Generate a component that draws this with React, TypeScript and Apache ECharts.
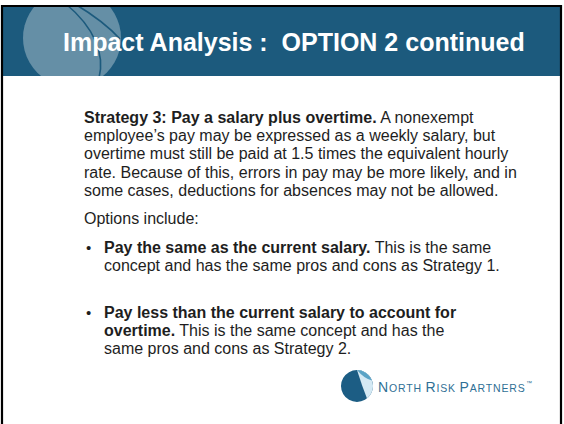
import React, { useEffect, useRef } from "react";
import * as echarts from "echarts";

const FONT = '"Liberation Sans", Arial, Helvetica, sans-serif';
const TITLE = "Impact Analysis :  OPTION 2 continued";

// [bold part, normal part]
const PARAGRAPH: [string, string][] = [
  ["Strategy 3: Pay a salary plus overtime.", " A nonexempt"],
  ["", "employee\u2019s pay may be expressed as a weekly salary, but"],
  ["", "overtime must still be paid at 1.5 times the equivalent hourly"],
  ["", "rate. Because of this, errors in pay may be more likely, and in"],
  ["", "some cases, deductions for absences may not be allowed."],
];
const OPTIONS_LINE = "Options include:";
const BULLET1: [string, string][] = [
  ["Pay the same as the current salary.", " This is the same"],
  ["", "concept and has the same pros and cons as Strategy 1."],
];
const BULLET2: [string, string][] = [
  ["Pay less than the current salary to account for", ""],
  ["overtime.", " This is the same concept and has the"],
  ["", "same pros and cons as Strategy 2."],
];
const LOGO_WORDS = ["NORTH", "RISK", "PARTNERS"];

const BAND = "#1c5a7d";
const TEXT = "#1e1e1e";
const LOGO_BLUE = "#2f6f95";

echarts.graphic.registerShape(
  "logoLight",
  echarts.graphic.extendPath("M 0 -16 A 16 16 0 0 1 10 12.5 Q 5 0 0 -16 Z", {})
);
echarts.graphic.registerShape(
  "logoTeal",
  echarts.graphic.extendPath("M 0 -16 A 16 16 0 0 1 15 -5.5 Q 7 -7.5 0 -16 Z", {})
);

function richLine(parts: [string, string], x: number, y: number) {
  const [b, n] = parts;
  let t = "";
  if (b) t += "{b|" + b + "}";
  if (n) t += "{n|" + n + "}";
  return {
    type: "text",
    x,
    y,
    style: {
      text: t,
      fill: TEXT,
      verticalAlign: "middle",
      rich: {
        b: { fontFamily: FONT, fontSize: 16, fontWeight: "bold", fill: TEXT },
        n: { fontFamily: FONT, fontSize: 16, fontWeight: "normal", fill: TEXT },
      },
    },
  };
}

export default function App() {
  const ref = useRef<HTMLDivElement>(null);
  useEffect(() => {
    if (!ref.current) return;
    const chart = echarts.init(ref.current, undefined, { renderer: "svg" });
    const els: any[] = [];
    // band
    els.push({ type: "rect", shape: { x: 2, y: 6, width: 560, height: 70 }, style: { fill: BAND } });
    els.push({ type: "circle", shape: { cx: 72, cy: 38, r: 49 }, style: { fill: "rgba(255,255,255,0.32)" } });
    els.push({
      type: "bezierCurve",
      shape: { x1: 66, y1: 4, cpx1: 95, cpy1: 28, cpx2: 105, cpy2: 55, x2: 99, y2: 78 },
      style: { stroke: BAND, lineWidth: 1.6, fill: "none" },
    });
    els.push({
      type: "bezierCurve",
      shape: { x1: 75, y1: 4, cpx1: 95, cpy1: 16, cpx2: 110, cpy2: 28, x2: 120, y2: 39 },
      style: { stroke: BAND, lineWidth: 1.6, fill: "none" },
    });
    // covers
    els.push({ type: "rect", shape: { x: 0, y: 0, width: 564, height: 6 }, style: { fill: "#ffffff" } });
    els.push({ type: "rect", shape: { x: 2, y: 76, width: 560, height: 350 }, style: { fill: "#ffffff" } });
    // border
    els.push({
      type: "polyline",
      shape: { points: [[2, 430], [2, 6], [561, 6], [561, 430]] },
      style: { stroke: "#000000", lineWidth: 2.2, fill: "none" },
    });
    // title
    els.push({
      type: "text",
      x: 63,
      y: 42,
      style: { text: TITLE, fill: "#ffffff", font: "bold 25px " + FONT, verticalAlign: "middle" },
    });
    const paraY = [117, 135, 153, 172, 190];
    PARAGRAPH.forEach((p, i) => els.push(richLine(p, 84, paraY[i])));
    els.push({
      type: "text",
      x: 84,
      y: 218,
      style: { text: OPTIONS_LINE, fill: TEXT, font: "16px " + FONT, verticalAlign: "middle" },
    });
    const b1Y = [247, 265];
    BULLET1.forEach((p, i) => els.push(richLine(p, 104, b1Y[i])));
    const b2Y = [312, 330, 348];
    BULLET2.forEach((p, i) => els.push(richLine(p, 104, b2Y[i])));
    [247, 312].forEach((y) =>
      els.push({
        type: "text",
        x: 86,
        y,
        style: { text: "\u2022", fill: TEXT, font: "15px " + FONT, verticalAlign: "middle" },
      })
    );
    // logo
    els.push({ type: "circle", shape: { cx: 357, cy: 386, r: 16 }, style: { fill: "#1c5d84" } });
    els.push({ type: "logoLight", x: 357, y: 386, scaleX: 1, scaleY: 1, style: { fill: "#d4e9f4" } });
    els.push({ type: "logoTeal", x: 357, y: 386, scaleX: 1, scaleY: 1, style: { fill: "#5aa3c6" } });
    // letter-spaced small caps, baseline aligned
    const ctx = document.createElement("canvas").getContext("2d")!;
    const spacing = 0.8;
    let cx = 378;
    const baseY = 392;
    LOGO_WORDS.forEach((w, wi) => {
      for (let k = 0; k < w.length; k++) {
        const size = k === 0 ? 14 : 10.5;
        const font = size + "px " + FONT;
        ctx.font = font;
        els.push({
          type: "text",
          x: cx,
          y: baseY - 0.3465 * size,
          style: { text: w[k], fill: LOGO_BLUE, font, verticalAlign: "middle" },
        });
        cx += ctx.measureText(w[k]).width + spacing;
      }
      if (wi < LOGO_WORDS.length - 1) {
        ctx.font = "10.5px " + FONT;
        cx += ctx.measureText(" ").width + spacing;
      }
    });
    els.push({
      type: "text",
      x: cx + 0.5,
      y: 383,
      style: { text: "\u2122", fill: LOGO_BLUE, font: "6px " + FONT, verticalAlign: "middle" },
    });
    chart.setOption({ animation: false, backgroundColor: "#ffffff", graphic: { elements: els } });
    return () => chart.dispose();
  }, []);
  return (
    <div
      ref={ref}
      style={{ position: "fixed", left: 0, top: 0, width: 564, height: 424, background: "#fff" }}
    />
  );
}
